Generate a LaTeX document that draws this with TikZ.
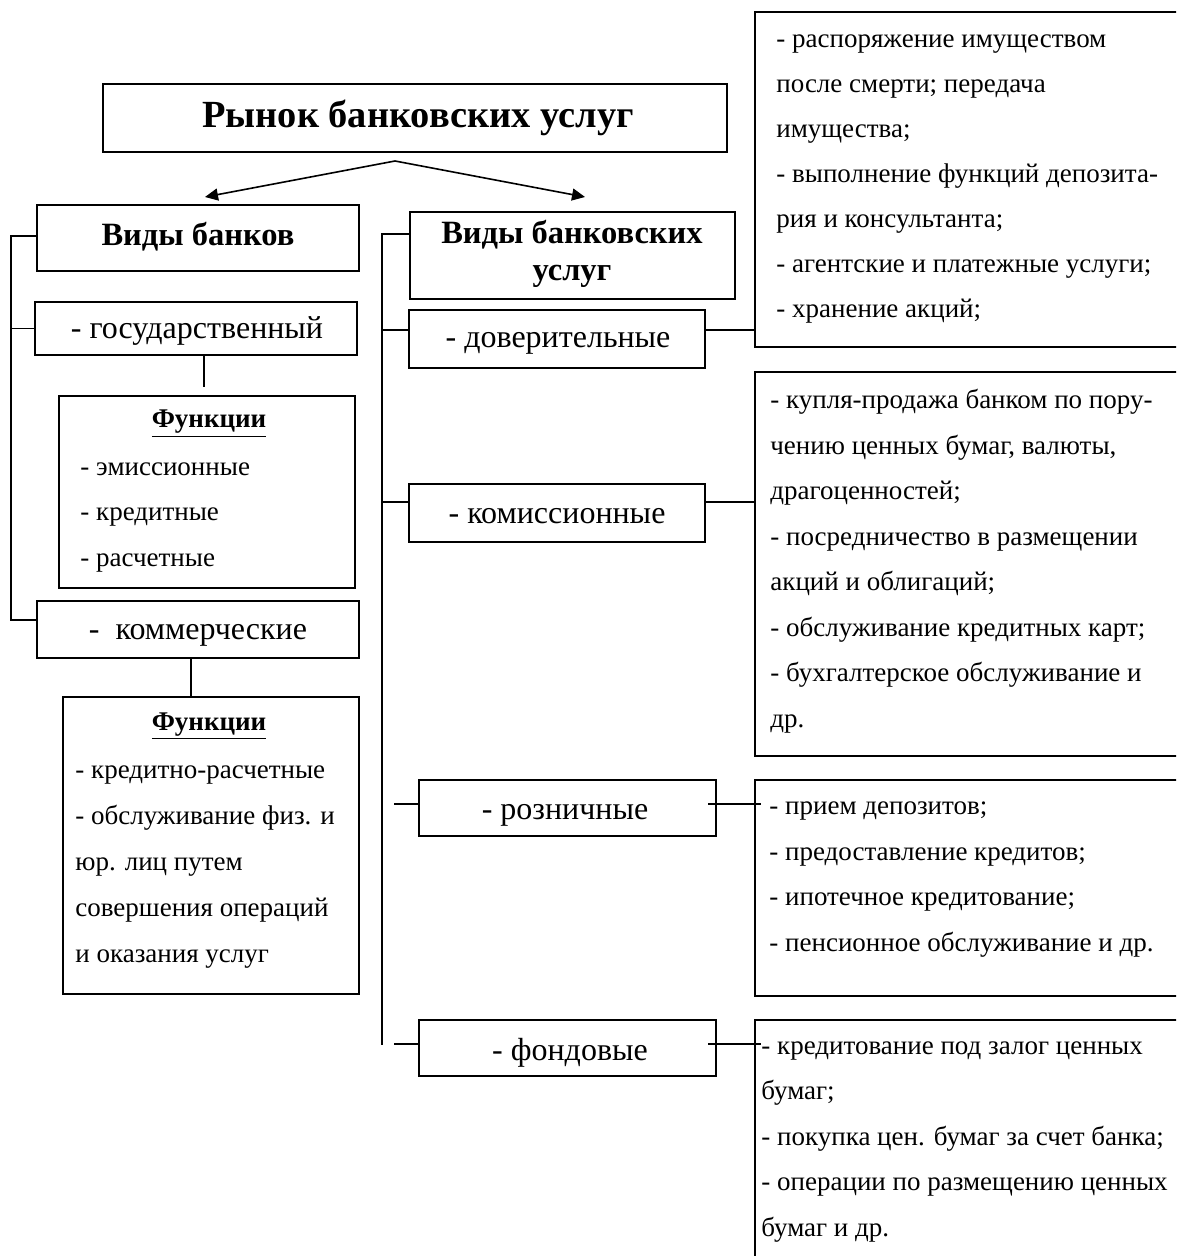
\documentclass[tikz,border=0pt]{standalone}
\usepackage{fontspec}
\setmainfont{Liberation Serif}
\usetikzlibrary{fit,arrows.meta}

\begin{document}
\begin{tikzpicture}[
    x=0.5pt, y=-0.5pt,
    box/.style={draw, line width=1pt, inner sep=0pt},
    conn/.style={line width=0.8pt},
    txt/.style={inner sep=0pt, anchor=base},
    maintitle/.style={txt, font=\fontsize{19.2}{23}\selectfont\bfseries},
    heading/.style={txt, font=\fontsize{16.25}{18.5}\selectfont\bfseries, align=center},
    kind/.style={txt, font=\fontsize{16}{19}\selectfont},
    fnhead/.style={txt, font=\fontsize{13.5}{16}\selectfont\bfseries},
    lst/.style={font=\fontsize{13.5}{22.75}\selectfont, align=left, inner sep=0pt, anchor=base west},
]
\clip (0,0) rectangle (1176,1256);

% top level (texts sit on their last baseline)
\node[box, fit={(103,84) (727,152)}] (market) {};
\node[maintitle] (markettext) at (418,128) {Рынок банковских услуг};
\node[box, fit={(37,205) (359,271)}] (banks) {};
\node[heading] (bankstext) at (198,246) {Виды банков};
\node[box, fit={(410,212) (735,299)}] (services) {};
\node[heading] (servicestext) at (572,281) {Виды банковских\\услуг};
\coordinate (fork) at ([xshift=-10pt,yshift=-4pt]market.south);
\draw[conn, -{Triangle[length=6.5pt, width=6pt]}] (fork) -- ([xshift=3.5pt,yshift=3.5pt]banks.north);
\draw[conn, -{Triangle[length=6.5pt, width=6pt]}] (fork) -- ([xshift=6.25pt,yshift=7pt]services.north);

% kinds of banks
\node[box, fit={(35,302) (357,355)}] (state) {};
\node[kind] (statetext) at (197,339) {- государственный};
\node[box, fit={(59,396) (355,588)}] (statefn) {};
\node[fnhead] (statefnhead) at (209,428) {\underline{Функции}};
\node[lst] (statefntext) at (80,566) {- эмиссионные\\- кредитные\\- расчетные};
\node[box, fit={(37,601) (359,658)}] (commerce) {};
\node[kind] (commercetext) at (198,639) {-\ \ коммерческие};
\node[box, fit={(63,697) (359,994)}] (commercefn) {};
\node[fnhead] (commercefnhead) at (209,730) {\underline{Функции}};
\node[lst, font=\fontsize{13.5}{23}\selectfont] (commercefntext) at (75,962) {- кредитно-расчетные\\
- обслуживание физ. и\\
юр. лиц путем\\
совершения операций\\
и оказания услуг};

\draw[conn] ([yshift=1pt]banks.west) -- ++(-25,0) |- ([yshift=4.75pt]commerce.west);
\draw[conn] (state.west) -- ++(-23,0);
\draw[conn] ([xshift=4pt]state.south) -- ++(0,31);
\draw[conn] ([xshift=-3.5pt]commerce.south) -- ([xshift=-10pt]commercefn.north);

% kinds of services
\node[box, fit={(409,310) (705,368)}] (trust) {};
\node[kind] (trusttitle) at (558,348) {- доверительные};
\node[box, fit={(409,484) (705,542)}] (commission) {};
\node[kind] (commissiontitle) at (557,523) {- комиссионные};
\node[box, fit={(419,780) (716,836)}] (retail) {};
\node[kind] (retailtitle) at (565,819) {- розничные};
\node[box, fit={(419,1020) (716,1076)}] (stock) {};
\node[kind] (stocktitle) at (570,1060) {- фондовые};

\draw[conn] ([yshift=10.75pt]services.west) -- ++(-27,0) -- ++(0,811);
\draw[conn] ([yshift=4.5pt]trust.west) -- ++(-26,0);
\draw[conn] ([yshift=5.5pt]commission.west) -- ++(-26,0);
\draw[conn] ([yshift=2pt]retail.west) -- ++(-24,0);
\draw[conn] ([yshift=2pt]stock.west) -- ++(-24,0);

% lists on the right
\node[box, fit={(755,12) (1190,347)}] (trustbox) {};
\node[lst, font=\fontsize{13.5}{22.5}\selectfont] (trusttext) at (776,318) {- распоряжение имуществом\\
после смерти; передача\\
имущества;\\
- выполнение функций депозита-\\
рия и консультанта;\\
- агентские и платежные услуги;\\
- хранение акций;};
\node[box, fit={(755,372) (1190,756)}] (commbox) {};
\node[lst] (commtext) at (770,727) {- купля-продажа банком по пору-\\
чению ценных бумаг, валюты,\\
драгоценностей;\\
- посредничество в размещении\\
акций и облигаций;\\
- обслуживание кредитных карт;\\
- бухгалтерское обслуживание и\\
др.};
\node[box, fit={(755,780) (1190,996)}] (retailbox) {};
\node[lst] (retailtext) at (769,951) {- прием депозитов;\\
- предоставление кредитов;\\
- ипотечное кредитование;\\
- пенсионное обслуживание и др.};
\node[box, fit={(755,1020) (1190,1270)}] (stockbox) {};
\node[lst] (stocktext) at (761,1236) {- кредитование под залог ценных\\
бумаг;\\
- покупка цен. бумаг за счет банка;\\
- операции по размещению ценных\\
бумаг и др.};

\draw[conn] ([yshift=4.5pt]trust.east) -- ++(50,0);
\draw[conn] ([yshift=5.5pt]commission.east) -- ++(50,0);
\draw[conn] ([xshift=-4.5pt,yshift=2pt]retail.east) -- ++(53,0);
\draw[conn] ([xshift=-4.5pt,yshift=2pt]stock.east) -- ++(53,0);
\end{tikzpicture}
\end{document}
